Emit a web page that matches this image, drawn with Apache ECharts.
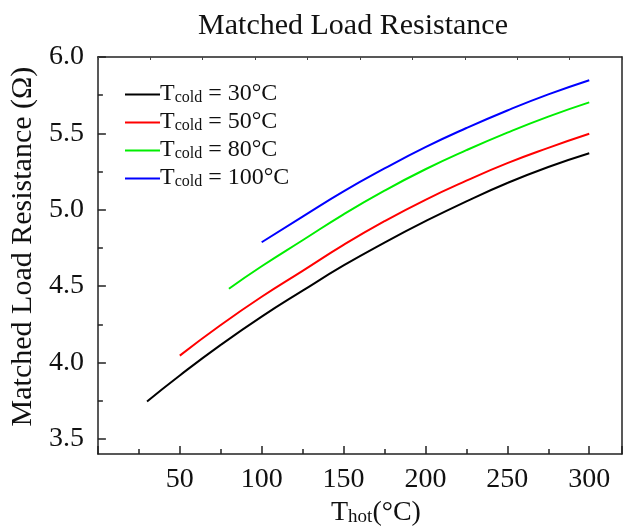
<!DOCTYPE html>
<html>
<head>
<meta charset="utf-8">
<script src="https://cdn.jsdelivr.net/npm/echarts@6/dist/echarts.min.js"></script>
<style>
  html, body { margin: 0; padding: 0; background: #fff; }
  #container1 { width: 626px; height: 532px; }
</style>
</head>
<body>
<div id="container1"></div>
<script>
// T_hot (°C) sample points and matched load resistance (Ω) per T_cold
var hot30 = [30, 50, 75, 100, 125, 150, 175, 200, 225, 250, 275, 300];
var res30 = [3.745, 3.915, 4.115, 4.30, 4.47, 4.635, 4.785, 4.925, 5.055, 5.175, 5.28, 5.37];
var hot50 = [50, 75, 100, 125, 150, 175, 200, 225, 250, 275, 300];
var res50 = [4.045, 4.245, 4.43, 4.60, 4.77, 4.925, 5.065, 5.19, 5.305, 5.405, 5.497];
var hot80 = [80, 100, 125, 150, 175, 200, 225, 250, 275, 300];
var res80 = [4.483, 4.63, 4.80, 4.97, 5.125, 5.265, 5.39, 5.505, 5.61, 5.703];
var hot100 = [100, 125, 150, 175, 200, 225, 250, 275, 300];
var res100 = [4.787, 4.955, 5.12, 5.27, 5.41, 5.535, 5.65, 5.755, 5.848];
var coldLabels = ['30', '50', '80', '100'];
var lineColors = ['#000000', '#ff0000', '#00ee00', '#0000ff'];
// y axis ticks (major labelled, minor between)
var yMajor = [3.5, 4.0, 4.5, 5.0, 5.5, 6.0];
var yMinor = [3.75, 4.25, 4.75, 5.25, 5.75];

var FONT = 'Liberation Serif';

function pairs(xs, ys) {
  var out = [];
  for (var i = 0; i < xs.length; i++) out.push([xs[i], ys[i]]);
  return out;
}

var dom = document.getElementById("container1");
var myChart = echarts.init(dom);

var seriesData = [pairs(hot30, res30), pairs(hot50, res50), pairs(hot80, res80), pairs(hot100, res100)];
var series = [];
for (var k = 0; k < seriesData.length; k++) {
  series.push({
    name: coldLabels[k],
    type: 'line',
    data: seriesData[k],
    smooth: true,
    showSymbol: false,
    symbol: 'none',
    color: lineColors[k],
    lineStyle: { width: 2, color: lineColors[k] },
    xAxisIndex: 0,
    yAxisIndex: 0
  });
}

var axisLineStyle = { color: '#222', width: 1.5 };

var option = {
  animation: false,
  backgroundColor: '#fff',
  textStyle: { fontFamily: FONT },
  title: {
    text: 'Matched Load Resistance',
    left: 348,
    top: 6,
    textAlign: 'center',
    textStyle: { fontFamily: FONT, fontSize: 30, fontWeight: 'normal', color: '#111' }
  },
  legend: {
    orient: 'vertical',
    left: 120,
    top: 77,
    itemWidth: 35,
    itemHeight: 2,
    itemGap: 4,
    icon: 'rect',
    data: coldLabels,
    formatter: function (name) {
      return '{t|T}{s|cold}{t| = ' + name + '°C}';
    },
    textStyle: {
      fontFamily: FONT,
      color: '#111',
      padding: [0, 0, 0, -5],
      rich: {
        t: { fontFamily: FONT, fontSize: 24, color: '#111', lineHeight: 23, verticalAlign: 'bottom' },
        s: { fontFamily: FONT, fontSize: 16, color: '#111', lineHeight: 12, verticalAlign: 'bottom' }
      }
    }
  },
  grid: { left: 97, right: 4, top: 57, bottom: 74, containLabel: false },
  xAxis: [
    {
      type: 'value',
      min: 0,
      max: 320,
      interval: 50,
      position: 'bottom',
      name: '{t|T}{s|hot}{t|(°C)}',
      nameLocation: 'middle',
      nameGap: 44,
      nameTextStyle: {
        fontFamily: FONT,
        color: '#111',
        padding: [0, 0, 0, 32],
        rich: {
          t: { fontFamily: FONT, fontSize: 28, color: '#111', lineHeight: 28, verticalAlign: 'bottom' },
          s: { fontFamily: FONT, fontSize: 19, color: '#111', lineHeight: 14, verticalAlign: 'bottom' }
        }
      },
      axisLine: { show: true, onZero: false, lineStyle: axisLineStyle },
      axisTick: { show: true, inside: true, length: 8, lineStyle: axisLineStyle },
      minorTick: { show: true, splitNumber: 2, length: 5, lineStyle: axisLineStyle },
      axisLabel: {
        fontFamily: FONT, fontSize: 28, color: '#111', margin: 12,
        formatter: function (v) { return v === 0 ? '' : v; }
      },
      splitLine: { show: false }
    },
    {
      type: 'value',
      min: 0,
      max: 10,
      interval: 1,
      position: 'top',
      axisLine: { show: true, onZero: false, lineStyle: axisLineStyle },
      axisTick: { show: true, inside: true, length: 3, lineStyle: { color: '#444', width: 1 } },
      axisLabel: { show: false },
      splitLine: { show: false }
    }
  ],
  yAxis: [
    {
      type: 'value',
      min: 3.4,
      max: 6.0,
      position: 'left',
      name: 'Matched Load Resistance (Ω)',
      nameLocation: 'middle',
      nameGap: 44,
      nameTextStyle: {
        fontFamily: FONT,
        fontSize: 30,
        color: '#111',
        padding: [0, 0, 0, 18]
      },
      axisLine: { show: true, onZero: false, lineStyle: axisLineStyle },
      axisTick: { show: true, inside: true, length: 8, customValues: yMajor, lineStyle: axisLineStyle },
      axisLabel: {
        fontFamily: FONT, fontSize: 28, color: '#111', margin: 14,
        customValues: yMajor,
        formatter: function (v) { return v.toFixed(1); }
      },
      splitLine: { show: false }
    },
    {
      type: 'value',
      min: 3.4,
      max: 6.0,
      position: 'left',
      axisLine: { show: false },
      axisTick: { show: true, inside: true, length: 5, customValues: yMinor, lineStyle: axisLineStyle },
      axisLabel: { show: false },
      splitLine: { show: false }
    },
    {
      type: 'value',
      min: 0,
      max: 1,
      position: 'right',
      axisLine: { show: true, onZero: false, lineStyle: axisLineStyle },
      axisTick: { show: false },
      axisLabel: { show: false },
      splitLine: { show: false }
    }
  ],
  series: series
};

myChart.setOption(option);
</script>
</body>
</html>
